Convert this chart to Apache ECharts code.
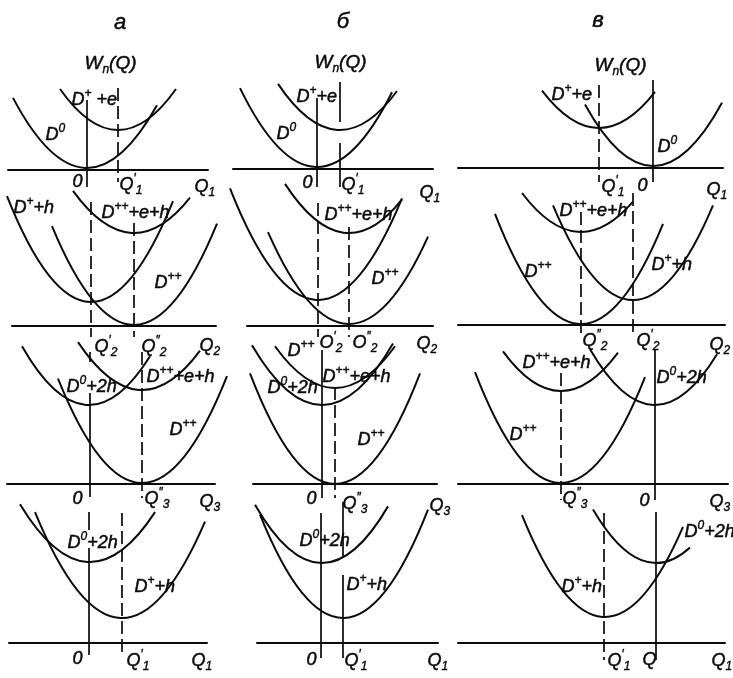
<!DOCTYPE html>
<html>
<head>
<meta charset="utf-8">
<script src="https://cdn.jsdelivr.net/npm/echarts@6/dist/echarts.min.js"></script>
<style>
  html, body { margin: 0; padding: 0; background: #fff; }
  #chart { width: 733px; height: 678px; }
</style>
</head>
<body>
<div id="chart"></div>
<script>
// Configuration diagrams W_n(Q) for the three cases а, б, в (columns) and four
// charge-state transitions (rows). Every panel has its own Q axis; values are
// Q measured from the left end of that axis and W measured up from the axis.

// Parabolic terms: [Q of minimum, W of minimum, curvature, Q start, Q end]
const curvesA1 = [[79, 2, 0.0128, 5, 149], [110, 40, 0.0122, 52, 168]];
const curvesB1 = [[84, 2, 0.0133, 7, 159], [107, 39, 0.012, 45, 164]];
const curvesC1 = [[195, 2, 0.0133, 127, 264], [141, 40, 0.0115, 84, 197]];
const curvesA2 = [[79, 24, 0.015, -5, 161], [122, 1, 0.0147, 40, 205], [122, 93, 0.0113, 61, 178]];
const curvesB2 = [[71, 26, 0.0144, -17, 155], [102, 2, 0.014, 21, 181], [102, 93, 0.012, 38, 155]];
const curvesC2 = [[123, 93, 0.0112, 64, 175], [123, 1, 0.0149, 37, 205], [175, 25, 0.0148, 95, 255]];
const curvesA3 = [[82, 79, 0.0131, 15, 143], [135, 94, 0.0117, 71, 193], [135, 1, 0.0148, 51, 220]];
const curvesB3 = [[69, 79, 0.0122, -1, 140], [82, 96, 0.0116, 22, 142], [82, 0, 0.0153, -3, 167]];
const curvesC3 = [[103, 93, 0.0118, 45, 160], [103, 1, 0.015, 17, 187], [197, 79, 0.0132, 132, 259]];
const curvesA4 = [[81, 81, 0.0118, 11, 146], [113, 25, 0.014, 26, 196]];
const curvesB4 = [[65, 80, 0.013, -2, 131], [86, 25, 0.015, 3, 171]];
const curvesC4 = [[198, 80, 0.0135, 135, 232], [147, 26, 0.0148, 64, 225]];

// Vertical markers: [Q, W top, W bottom, dashed]
const marksA1 = [[79, 70, -17, 0], [110, 82, -12, 1]];
const marksB1 = [[84, 71, -18, 0], [107, 87, 47, 0], [107, 26, -18, 0]];
const marksC1 = [[141, 83, -14, 1], [195, 88, -14, 0]];
const marksA2 = [[79, 124, -11, 1], [122, 103, -11, 1]];
const marksB2 = [[71, 123, -11, 1], [102, 99, -11, 1]];
const marksC2 = [[123, 113, -12, 1], [175, 132, -12, 1]];
const marksA3 = [[83, 132, 122, 0], [83, 91, -13, 0], [135, 132, -14, 1]];
const marksB3 = [[69, 134, -14, 0], [82, 97, -14, 1]];
const marksC3 = [[103, 111, -16, 1], [197, 134, -16, 0]];
const marksA4 = [[80, 131, 113, 0], [80, 95, -12, 0], [113, 130, -10, 1]];
const marksB4 = [[64, 130, -15, 0], [86, 141, 85, 0], [86, 68, -15, 0]];
const marksC4 = [[146, 130, -17, 1], [198, 131, -17, 0]];

// Text labels: [Q, W, text]
const labelsA1 = [
  [77, 106, '{w|W}{sb|n}{w|(Q)}'], [64, 70, '{m|D}{sp|+}{m| +e}'], [38, 35, '{m|D}{sp|0}'],
  [65, -12, '{m|0}'], [112, -15, '{m|Q}{sp|′}{sb|1}'], [187, -17, '{m|Q}{sb|1}']
];
const labelsB1 = [
  [82, 106, '{w|W}{sb|n}{w|(Q)}'], [64, 72, '{m|D}{sp|+}{m|+e}'], [44, 35, '{m|D}{sp|0}'],
  [70, -14, '{m|0}'], [109, -16, '{m|Q}{sp|′}{sb|1}'], [187, -24, '{m|Q}{sb|1}']
];
const labelsC1 = [
  [137, 102, '{w|W}{sb|n}{w|(Q)}'], [94, 73, '{m|D}{sp|+}{m|+e}'], [200, 21, '{m|D}{sp|0}'],
  [144, -19, '{m|Q}{sp|′}{sb|1}'], [180, -18, '{m|0}'], [249, -22, '{m|Q}{sb|1}']
];
const labelsA2 = [
  [2, 118, '{m|D}{sp|+}{m|+h}'], [90, 113, '{m|D}{sp|++}{m|+e+h}'], [143, 43, '{m|D}{sp|++}'],
  [83, -21, '{m|Q}{sp|′}{sb|2}'], [130, -21, '{m|Q}{sp|″}{sb|2}'], [188, -20, '{m|Q}{sb|2}']
];
const labelsB2 = [
  [-5, 118, '{m|D}{sp|+}{m|+h}'], [78, 111, '{m|D}{sp|++}{m|+e+h}'], [125, 47, '{m|D}{sp|++}'],
  [73, -17, '{m|O}{sp|′}{sb|2}'], [106, -17, '{m|O}{sp|″}{sb|2}'], [170, -18, '{m|Q}{sb|2}']
];
const labelsC2 = [
  [102, 114, '{m|D}{sp|++}{m|+e+h}'], [67, 53, '{m|D}{sp|++}'], [194, 60, '{m|D}{sp|+}{m|+h}'],
  [125, -16, '{m|Q}{sp|″}{sb|2}'], [179, -16, '{m|Q}{sp|′}{sb|2}'], [252, -20, '{m|Q}{sb|2}']
];
const labelsA3 = [
  [60, 97, '{m|D}{sp|0}{m|+2h}'], [140, 107, '{m|D}{sp|++}{m|+e+h}'], [163, 54, '{m|D}{sp|++}'],
  [66, -15, '{m|0}'], [138, -15, '{m|Q}{sp|″}{sb|3}'], [193, -18, '{m|Q}{sb|3}']
];
const labelsB3 = [
  [15, 96, '{m|D}{sp|0}{m|+2h}'], [35, 133, '{m|D}{sp|++}'], [70, 107, '{m|D}{sp|++}{m|+e+h}'],
  [105, 44, '{m|D}{sp|++}'], [54, -15, '{m|0}'], [90, -20, '{m|Q}{sp|″}{sb|3}'], [177, -22, '{m|Q}{sb|3}']
];
const labelsC3 = [
  [65, 121, '{m|D}{sp|++}{m|+e+h}'], [52, 49, '{m|D}{sp|++}'], [199, 106, '{m|D}{sp|0}{m|+2h}'],
  [105, -15, '{m|Q}{sp|″}{sb|3}'], [182, -17, '{m|0}'], [252, -18, '{m|Q}{sb|3}']
];
const labelsA4 = [
  [59, 100, '{m|D}{sp|0}{m|+2h}'], [126, 56, '{m|D}{sp|+}{m|+h}'],
  [64, -16, '{m|0}'], [118, -18, '{m|Q}{sp|′}{sb|1}'], [183, -18, '{m|Q}{sb|1}']
];
const labelsB4 = [
  [43, 102, '{m|D}{sp|0}{m|+2h}'], [90, 58, '{m|D}{sp|+}{m|+h}'],
  [50, -17, '{m|0}'], [88, -18, '{m|Q}{sp|′}{sb|1}'], [171, -18, '{m|Q}{sb|1}']
];
const labelsC4 = [
  [227, 111, '{m|D}{sp|0}{m|+2h}'], [104, 56, '{m|D}{sp|+}{m|+h}'],
  [150, -18, '{m|Q}{sp|′}{sb|1}'], [185, -17, '{m|Q}'], [254, -18, '{m|Q}{sb|1}']
];

const columnTitles = ['а', 'б', 'в'];

// Panel placement on the page: [axis left px, axis length px, axis baseline px]
const panels = [
  { box: [8, 200, 170],   curves: curvesA1, marks: marksA1, labels: labelsA1 },
  { box: [233, 200, 169], curves: curvesB1, marks: marksB1, labels: labelsB1 },
  { box: [458, 265, 168], curves: curvesC1, marks: marksC1, labels: labelsC1 },
  { box: [12, 204, 326],  curves: curvesA2, marks: marksA2, labels: labelsA2 },
  { box: [247, 186, 326], curves: curvesB2, marks: marksB2, labels: labelsB2 },
  { box: [458, 267, 325], curves: curvesC2, marks: marksC2, labels: labelsC2 },
  { box: [7, 208, 484],   curves: curvesA3, marks: marksA3, labels: labelsA3 },
  { box: [253, 184, 484], curves: curvesB3, marks: marksB3, labels: labelsB3 },
  { box: [458, 270, 484], curves: curvesC3, marks: marksC3, labels: labelsC3 },
  { box: [9, 198, 643],   curves: curvesA4, marks: marksA4, labels: labelsA4 },
  { box: [257, 181, 643], curves: curvesB4, marks: marksB4, labels: labelsB4 },
  { box: [458, 267, 643], curves: curvesC4, marks: marksC4, labels: labelsC4 }
];
const titlePos = [[120, 23], [343, 22], [598, 21]];

const W_TOP = 140, W_BOTTOM = -30;
const INK = '#0a0a0a';
const FONT = "'Liberation Sans', 'DejaVu Sans', sans-serif";

// A parabola segment is drawn exactly as a quadratic Bézier curve.
function renderCurve(params, api) {
  const vx = api.value(0), vy = api.value(1), k = api.value(2);
  const xl = api.value(3), xr = api.value(4);
  const yl = vy + k * (xl - vx) * (xl - vx);
  const yr = vy + k * (xr - vx) * (xr - vx);
  const cy = vy + k * (xl - vx) * (xr - vx);
  const p0 = api.coord([xl, yl]);
  const p1 = api.coord([(xl + xr) / 2, cy]);
  const p2 = api.coord([xr, yr]);
  return {
    type: 'bezierCurve',
    shape: { x1: p0[0], y1: p0[1], x2: p2[0], y2: p2[1], cpx1: p1[0], cpy1: p1[1] },
    style: { stroke: INK, lineWidth: 2, fill: null }
  };
}

function renderMark(params, api) {
  const q = api.value(0);
  const a = api.coord([q, api.value(1)]);
  const b = api.coord([q, api.value(2)]);
  return {
    type: 'line',
    shape: { x1: a[0], y1: a[1], x2: b[0], y2: b[1] },
    style: { stroke: INK, lineWidth: 1.7, lineDash: api.value(3) ? [13, 5] : null }
  };
}

// Handwritten-style italic lettering with super- and subscripts.
function textStyle(size, extra) {
  return Object.assign({
    fontSize: size, fontStyle: 'italic', fontFamily: FONT, color: INK,
    textBorderColor: INK, textBorderWidth: 0.5, lineHeight: 24
  }, extra || {});
}
const richStyles = {
  m:  textStyle(18),
  w:  textStyle(19),
  sp: textStyle(12, { verticalAlign: 'top', textBorderWidth: 0.4 }),
  sb: textStyle(12, { verticalAlign: 'bottom', textBorderWidth: 0.4 })
};

const grid = [], xAxis = [], yAxis = [], series = [];
panels.forEach((p, i) => {
  const [left, len, base] = p.box;
  grid.push({ left: left, top: base - W_TOP, width: len, height: W_TOP - W_BOTTOM, outerBoundsMode: 'none' });
  xAxis.push({
    gridIndex: i, type: 'value', min: 0, max: len,
    axisLine: { show: true, onZero: true, lineStyle: { color: INK, width: 2 } },
    axisTick: { show: false }, axisLabel: { show: false }, splitLine: { show: false }
  });
  yAxis.push({
    gridIndex: i, type: 'value', min: W_BOTTOM, max: W_TOP,
    axisLine: { show: false }, axisTick: { show: false }, axisLabel: { show: false }, splitLine: { show: false }
  });
  series.push({
    type: 'custom', xAxisIndex: i, yAxisIndex: i, silent: true,
    renderItem: renderCurve, data: p.curves
  });
  series.push({
    type: 'custom', xAxisIndex: i, yAxisIndex: i, silent: true,
    renderItem: renderMark, data: p.marks
  });
  series.push({
    type: 'scatter', xAxisIndex: i, yAxisIndex: i, silent: true,
    symbolSize: 1, itemStyle: { color: 'rgba(0,0,0,0)' },
    data: p.labels.map(l => ({ value: [l[0], l[1]], name: l[2] })),
    label: {
      show: true, position: [0, 0], align: 'left', verticalAlign: 'middle',
      color: INK, textBorderWidth: 0, opacity: 1,
      formatter: (d) => d.name, rich: richStyles
    },
    labelLayout: { hideOverlap: false }
  });
});

const graphic = columnTitles.map((t, i) => ({
  type: 'text', x: titlePos[i][0], y: titlePos[i][1],
  style: {
    text: t, fill: INK, font: 'italic 22px ' + FONT,
    stroke: INK, lineWidth: 0.5,
    align: 'center', verticalAlign: 'middle', textAlign: 'center', textVerticalAlign: 'middle'
  }
}));

const chart = echarts.init(document.getElementById('chart'), null, { renderer: 'canvas' });
chart.setOption({
  animation: false,
  backgroundColor: '#fff',
  grid, xAxis, yAxis, series, graphic
});
</script>
</body>
</html>
